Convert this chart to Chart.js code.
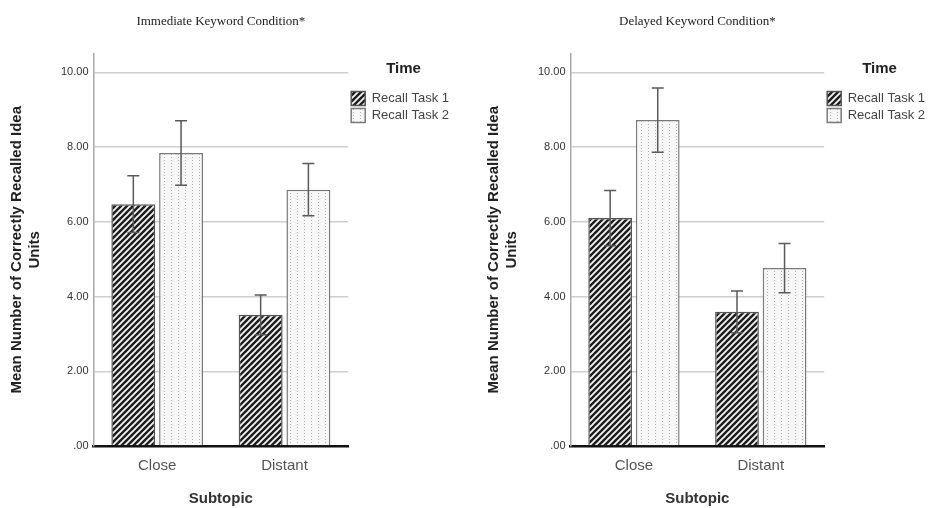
<!DOCTYPE html>
<html>
<head>
<meta charset="utf-8">
<script src="https://cdn.jsdelivr.net/npm/chart.js@4.4.1/dist/chart.umd.min.js"></script>
<style>
  html, body { margin: 0; padding: 0; background: #fff; }
  .panel { position: absolute; top: 0; height: 508px; }
  #left { left: 0; width: 468px; }
  #right { left: 477px; width: 460px; }
</style>
</head>
<body>
<div class="panel" id="left"><canvas id="immediateChart"></canvas></div>
<div class="panel" id="right"><canvas id="delayedChart"></canvas></div>
<script>
// Values (means and error half-widths)
const subtopics = ['Close', 'Distant'];
const yTicks = [0, 2, 4, 6, 8, 10];

const immediateTask1 = [6.47, 3.51];
const immediateTask1Err = [0.76, 0.53];
const immediateTask2 = [7.84, 6.86];
const immediateTask2Err = [0.86, 0.70];

const delayedTask1 = [6.10, 3.59];
const delayedTask1Err = [0.74, 0.56];
const delayedTask2 = [8.72, 4.76];
const delayedTask2Err = [0.86, 0.66];

Chart.defaults.font.family = "'Liberation Sans', Arial, sans-serif";

// Fill patterns like the SPSS output
function hatchPattern() {
    const c = document.createElement('canvas');
    c.width = 6; c.height = 6;
    const g = c.getContext('2d');
    g.fillStyle = '#1c1c1c';
    g.fillRect(0, 0, 6, 6);
    g.strokeStyle = '#f2f2f2';
    g.lineWidth = 1.9;
    g.beginPath();
    g.moveTo(-1, 7); g.lineTo(7, -1);
    g.moveTo(-4, 4); g.lineTo(4, -4);
    g.moveTo(2, 10); g.lineTo(10, 2);
    g.stroke();
    return g.createPattern(c, 'repeat');
}

function dotPattern() {
    const c = document.createElement('canvas');
    c.width = 7; c.height = 3;
    const g = c.getContext('2d');
    g.fillStyle = '#f7f7f7';
    g.fillRect(0, 0, 7, 3);
    g.fillStyle = '#b0b0b0';
    g.fillRect(3, 1, 1, 1);
    return g.createPattern(c, 'repeat');
}

const errorBarPlugin = {
    id: 'errorBars',
    afterDatasetsDraw(chart) {
        const ctx = chart.ctx;
        const y = chart.scales.y;
        ctx.save();
        ctx.strokeStyle = '#5a5a5a';
        ctx.lineWidth = 1.5;
        chart.data.datasets.forEach((ds, i) => {
            chart.getDatasetMeta(i).data.forEach((bar, j) => {
                const top = y.getPixelForValue(ds.data[j] + ds.errors[j]);
                const bot = y.getPixelForValue(ds.data[j] - ds.errors[j]);
                ctx.beginPath();
                ctx.moveTo(bar.x, top); ctx.lineTo(bar.x, bot);
                ctx.moveTo(bar.x - 6, top); ctx.lineTo(bar.x + 6, top);
                ctx.moveTo(bar.x - 6, bot); ctx.lineTo(bar.x + 6, bot);
                ctx.stroke();
            });
        });
        ctx.restore();
    }
};

function makeChart(id, title, task1, task1Err, task2, task2Err, rightPad) {
    return new Chart(document.getElementById(id), {
        type: 'bar',
        data: {
            labels: subtopics,
            datasets: [{
                label: 'Recall Task 1',
                data: task1,
                errors: task1Err,
                backgroundColor: hatchPattern(),
                borderColor: '#555',
                borderWidth: 1.5
            }, {
                label: 'Recall Task 2',
                data: task2,
                errors: task2Err,
                backgroundColor: dotPattern(),
                borderColor: '#7a7a7a',
                borderWidth: 1.5
            }]
        },
        options: {
            responsive: true,
            maintainAspectRatio: false,
            animation: false,
            layout: { padding: { left: 2, right: rightPad, top: 0, bottom: 0 } },
            datasets: { bar: { categoryPercentage: 0.75, barPercentage: 0.92 } },
            scales: {
                x: {
                    grid: { display: false, drawTicks: false },
                    border: { color: '#111', width: 2.5 },
                    ticks: { color: '#555', font: { size: 15 }, padding: 11 },
                    title: {
                        display: true, text: 'Subtopic', color: '#333',
                        font: { size: 15, weight: 'bold' },
                        padding: { top: 4, bottom: 0 }
                    }
                },
                y: {
                    min: 0,
                    max: 10.5,
                    afterBuildTicks: scale => {
                        scale.ticks = yTicks.map(v => ({ value: v }));
                    },
                    grid: {
                        drawTicks: false,
                        lineWidth: 1.5,
                        color: c => c.tick && c.tick.value === 0 ? 'rgba(0,0,0,0)' : '#cfcfcf'
                    },
                    border: { color: '#aaa', width: 1.5 },
                    ticks: {
                        color: '#333',
                        font: { size: 11 },
                        padding: 5,
                        callback: v => v.toFixed(2).replace(/^0/, '')
                    },
                    title: {
                        display: true,
                        text: ['Mean Number of Correctly Recalled Idea', 'Units'],
                        color: '#222',
                        font: { size: 15, weight: 'bold' },
                        padding: { top: 6, bottom: 12 }
                    }
                }
            },
            plugins: {
                title: {
                    display: true,
                    text: title,
                    fullSize: false,
                    color: '#222',
                    font: { family: "'Liberation Serif', 'Times New Roman', serif", size: 13, weight: 'normal' },
                    padding: { top: 14, bottom: 24 }
                },
                legend: {
                    position: 'right',
                    align: 'start',
                    fullSize: false,
                    title: {
                        display: true, text: 'Time', color: '#222',
                        font: { size: 15, weight: 'bold' },
                        padding: { top: 8, bottom: 9 }
                    },
                    labels: {
                        color: '#444',
                        font: { size: 13 },
                        boxWidth: 14,
                        boxHeight: 14,
                        padding: 3
                    }
                },
                tooltip: { enabled: false }
            }
        },
        plugins: [errorBarPlugin]
    });
}

makeChart('immediateChart', 'Immediate Keyword Condition*',
    immediateTask1, immediateTask1Err, immediateTask2, immediateTask2Err, 9);
makeChart('delayedChart', 'Delayed Keyword Condition*',
    delayedTask1, delayedTask1Err, delayedTask2, delayedTask2Err, 2);
</script>
</body>
</html>
